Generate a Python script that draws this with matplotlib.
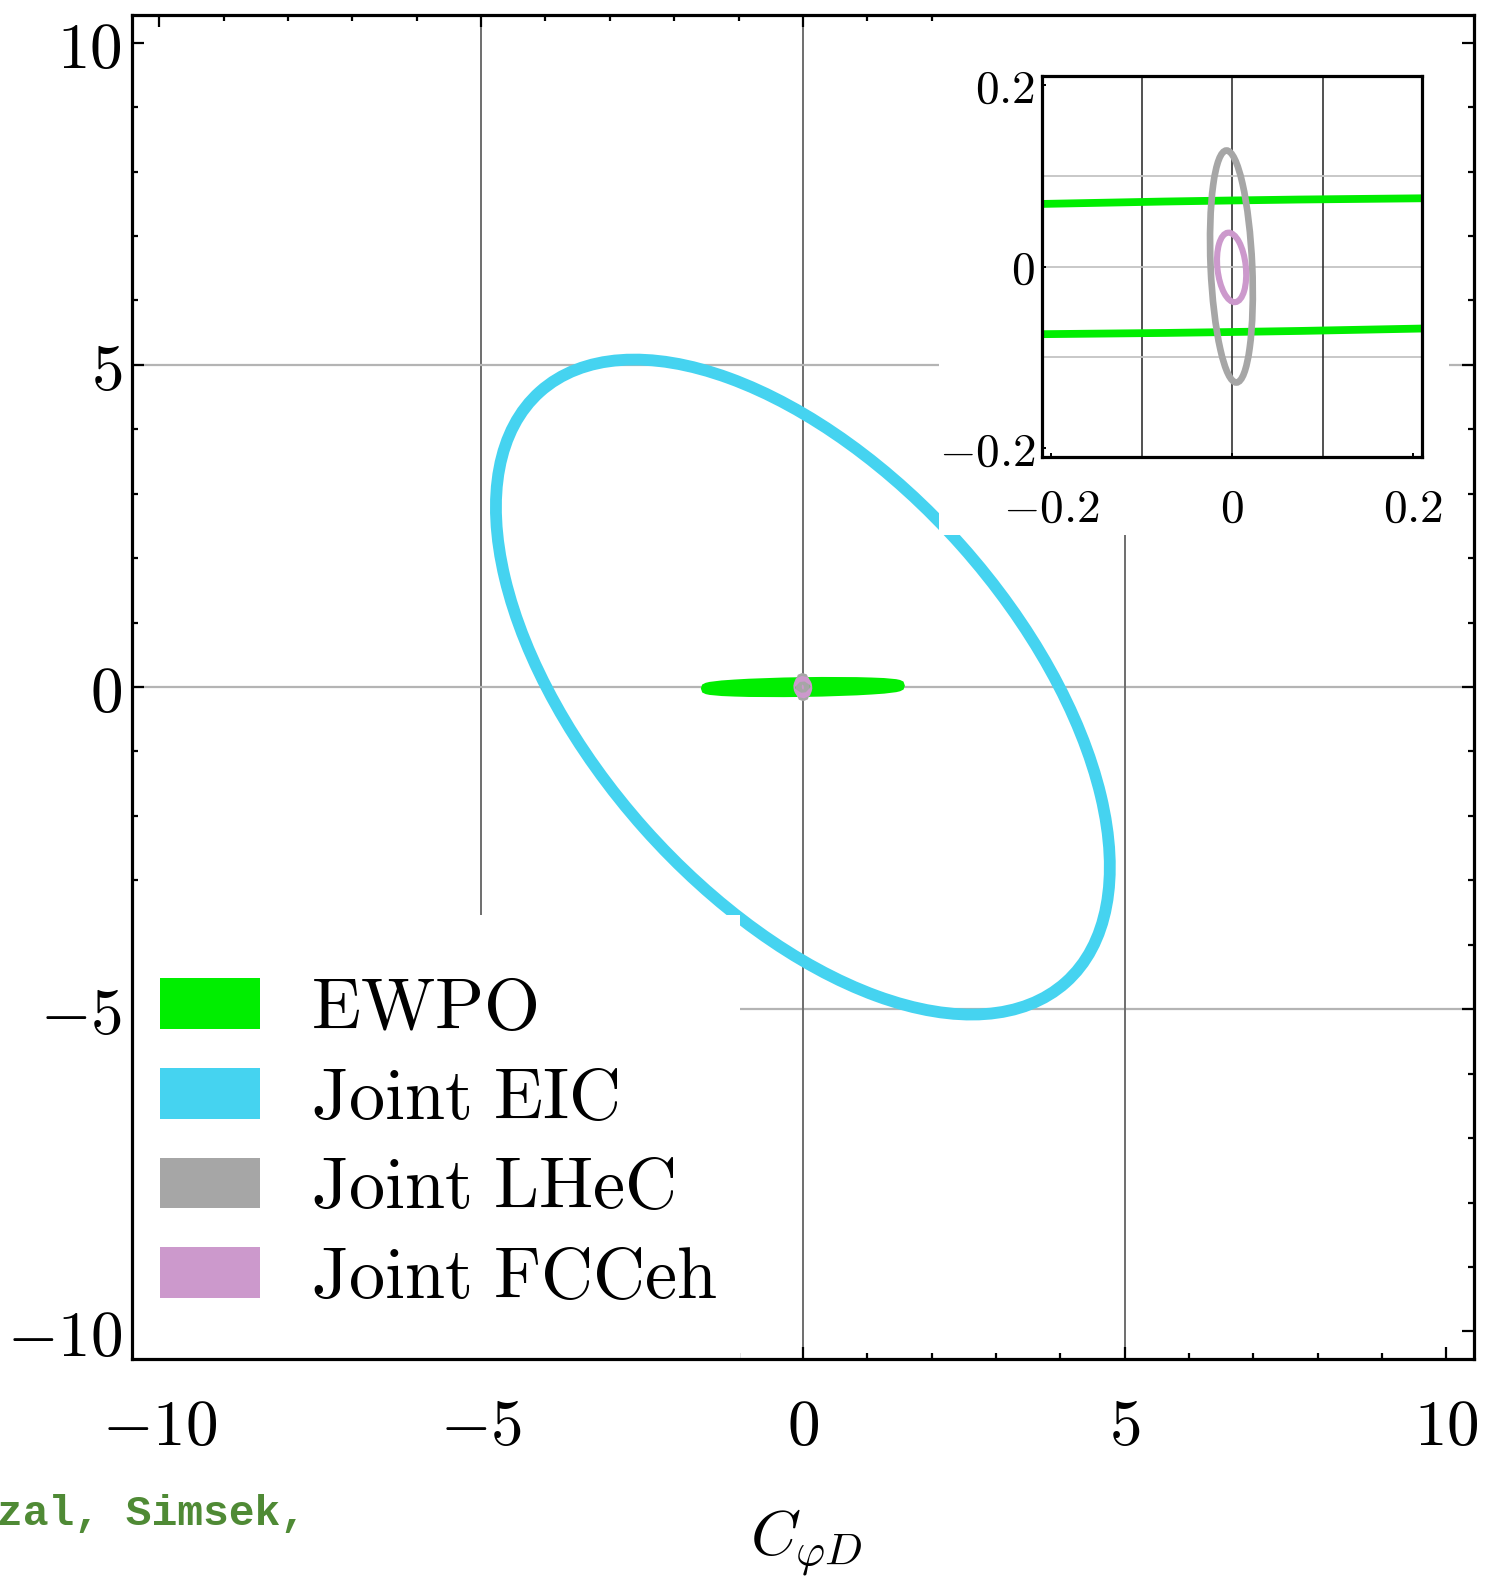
import matplotlib
matplotlib.use("Agg")
import matplotlib.pyplot as plt
from matplotlib.patches import Ellipse, Rectangle, Patch

plt.rcParams["mathtext.fontset"] = "cm"
plt.rcParams["font.family"] = ["DejaVu Serif"]

# confidence ellipses: centre, semi-axes (major, minor), angle of major axis in degrees
labels = ["EWPO", "Joint EIC", "Joint LHeC", "Joint FCCeh"]
colors = ["#00ee00", "#45d3f0", "#a6a6a6", "#cc99cc"]
centers = [(0.0, 0.0003), (0.0, 0.0), (-0.0007, 0.0), (-0.0005, -0.001)]
semi_axes = [(1.50, 0.0725), (6.14, 3.30), (0.128, 0.023), (0.0385, 0.0157)]
angles = [0.85, -48.3, 92.5, 96.0]

main_ticks = [-10, -5, 0, 5, 10]
main_grid = [-5, 0, 5]
inset_ticks = [-0.2, 0, 0.2]
inset_grid = [-0.1, 0, 0.1]

LIM = 10.43
INSET_LIM = 0.21

fig = plt.figure(figsize=(15.12, 15.84), dpi=100)
ax = fig.add_axes([0.0871, 0.1420, 0.8878, 0.8485])
ax.set_xlim(-LIM, LIM)
ax.set_ylim(-LIM, LIM)

for g in main_grid:
    ax.axvline(g, color="#6e6e6e", lw=1.4, zorder=1)
    ax.axhline(g, color="#b4b4b4", lw=1.6, zorder=1)

main_lw = [7.5, 8.5, 8.0, 12.0]
for i in range(len(labels)):
    fill = i >= 2
    e = Ellipse(centers[i], 2 * semi_axes[i][0], 2 * semi_axes[i][1], angle=angles[i],
                facecolor=colors[i] if fill else "none", edgecolor=colors[i],
                lw=main_lw[i], zorder=2 + 0.01 * i)
    ax.add_patch(e)

# white backgrounds behind the legend and the inset
ax.add_patch(Rectangle((-LIM - 1, -LIM - 1), LIM + 1 - 0.98, LIM + 1 - 3.54,
                       facecolor="white", edgecolor="none", zorder=2.2))
ax.add_patch(Rectangle((2.11, 2.36), 10.04 - 2.11, LIM + 1 - 2.36,
                       facecolor="white", edgecolor="none", zorder=2.2))

ax.set_xticks(main_ticks, labels=[f"${t}$" for t in main_ticks])
ax.set_yticks(main_ticks, labels=[f"${t}$" for t in main_ticks])
ax.set_xticks(range(-10, 11), minor=True)
ax.set_yticks(range(-10, 11), minor=True)
ax.tick_params(which="both", direction="in", top=True, right=True, width=1.6)
ax.tick_params(which="major", length=8.5, labelsize=47)
ax.tick_params(which="minor", length=4.5)
ax.tick_params(axis="x", which="major", pad=26)
ax.tick_params(axis="y", which="major", pad=7)
for s in ax.spines.values():
    s.set_linewidth(2.3)

handles = [Patch(facecolor=c, edgecolor="none") for c in colors]
ax.legend(handles, [r"$\mathrm{" + l.replace(" ", r"\ ") + "}$" for l in labels],
          loc="upper left", bbox_to_anchor=(0.0211, 0.2870), frameon=False,
          fontsize=52, handlelength=1.39, handleheight=0.70, handletextpad=0.70,
          labelspacing=0.265, borderpad=0, borderaxespad=0)

fig.text(806 / 1512, 1 - 1557 / 1584, r"$C_{\varphi D}$", ha="center", va="baseline", fontsize=46)

# inset zoomed around the origin
ins = fig.add_axes([0.6892, 0.7115, 0.2513, 0.2405])
ins.set_xlim(-INSET_LIM, INSET_LIM)
ins.set_ylim(-INSET_LIM, INSET_LIM)
for g in inset_grid:
    ins.axvline(g, color="#222222", lw=1.1, zorder=1)
    ins.axhline(g, color="#c4c4c4", lw=1.3, zorder=1)

inset_lw = [5.6, 0, 4.8, 4.4]
for i in [0, 2, 3]:
    e = Ellipse(centers[i], 2 * semi_axes[i][0], 2 * semi_axes[i][1], angle=angles[i],
                facecolor="none", edgecolor=colors[i], lw=inset_lw[i], zorder=2)
    ins.add_patch(e)

ins.set_xticks(inset_ticks, labels=[r"$-0.2$", r"$0$", r"$0.2$"])
ins.set_yticks(inset_ticks, labels=[r"$-0.2$", r"$0$", r"$0.2$"])
ins.tick_params(direction="in", length=3, width=1.4, labelsize=34)
ins.tick_params(axis="x", pad=21)
ins.tick_params(axis="y", pad=5)
for s in ins.spines.values():
    s.set_linewidth(2.3)

fig.text(-0.002, 1 - 1525 / 1584, "zal, Simsek,", family="Liberation Mono", weight="bold",
         fontsize=31, color="#4f8a35", va="baseline", ha="left")

fig.savefig("out.png", dpi=100)
